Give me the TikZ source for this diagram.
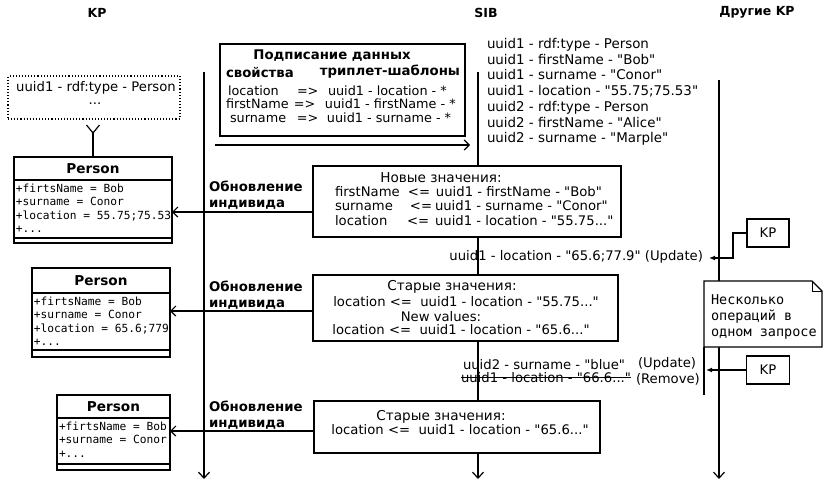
\documentclass[tikz,border=0pt]{standalone}
\usepackage{fontspec}
\setmainfont{DejaVu Sans}[Ligatures=TeXOff]
\setmonofont{DejaVu Sans Mono}
\usetikzlibrary{arrows.meta,calc}
\begin{document}
\begin{tikzpicture}[x=1pt,y=-1pt,
  every node/.style={inner sep=0pt, outer sep=0pt},
  ln/.style={line width=1.2pt},
  lifeline/.style={ln, -{Straight Barb[length=6pt,width=11pt,line width=1.2pt]}},
  box/.style={draw, ln, fill=white, anchor=north west},
  txt/.style={font=\fontsize{13.2}{15}\selectfont},
  stxt/.style={font=\fontsize{12.8}{15}\selectfont},
  ctxt/.style={font=\fontsize{13.6}{15}\selectfont},
  btxt/.style={font=\fontsize{13.3}{16}\bfseries\selectfont},
  ttxt/.style={font=\fontsize{12.5}{16}\bfseries\selectfont},
  mono/.style={font=\fontsize{11.2}{13.6}\ttfamily\selectfont},
  upd/.style={ln, -{Straight Barb[length=5pt,width=10pt,line width=1.2pt]}},
  msg/.style={ln, -{Latex[length=6pt,width=5pt]}},
]
\useasboundingbox (0,0) rectangle (823,482);
\fill[white] (0,0) rectangle (823,482);

% titles
\node[ttxt] (tkp) at (97,13) {KP};
\node[ttxt] (tsib) at (486,13) {SIB};
\node[ttxt] (toth) at (757,12) {Другие KP};

% lifelines
\coordinate (kpT) at (204,72);  \coordinate (kpB) at (204,479);
\coordinate (sibT) at (478,72); \coordinate (sibB) at (478,479);
\coordinate (othT) at (719,80); \coordinate (othB) at (719,479);
\draw[lifeline] (kpT) -- (kpB);
\draw[lifeline] (sibT) -- (sibB);
\draw[lifeline] (othT) -- (othB);

% SIB triples
\node[anchor=west, align=left, font=\fontsize{13.4}{15.7}\selectfont] (sibtxt) at (487,92)
 {uuid1 - rdf:type - Person\\
  uuid1 - firstName - "Bob"\\
  uuid1 - surname - "Conor"\\
  uuid1 - location - "55.75;75.53"\\
  uuid2 - rdf:type - Person\\
  uuid2 - firstName - "Alice"\\
  uuid2 - surname - "Marple"};

% subscription box
\node[box, minimum width=245, minimum height=92] (sub) at (220,44) {};
\node[btxt] (subt) at (332,56) {Подписание данных};
\node[btxt, anchor=west] (subl) at (226,73) {свойства};
\node[btxt, anchor=east] (subr) at (460,72) {триплет-шаблоны};
\node[stxt, anchor=west] (s1) at (228,91) {\makebox[69pt][l]{location}\makebox[31pt][l]{=>}uuid1 - location - *};
\node[stxt, anchor=west] (s2) at (226,104) {\makebox[68pt][l]{firstName}\makebox[31pt][l]{=>}uuid1 - firstName - *};
\node[stxt, anchor=west] (s3) at (230,118) {\makebox[67pt][l]{surname}\makebox[30pt][l]{=>}uuid1 - surname - *};
\coordinate (subA) at (215,145); \coordinate (subB) at (470,145);
\draw[upd] (subA) -- (subB);

% dotted box
\node[draw, dotted, line width=1.1pt, anchor=north west, minimum width=172, minimum height=43] (dot) at (8,76) {};
\node[txt] (dott) at (96,88) {uuid1 - rdf:type - Person};
\node[txt, anchor=base, text height=1.5pt, text depth=0pt] (dotd) at (95,104) {...};

% class 1
\node[box, minimum width=158, minimum height=23, font=\fontsize{13.6}{15}\bfseries\selectfont] (c1h) at (14,157) {Person};
\node[box, minimum width=158, minimum height=63] (c1b) at (c1h.south west) {};
\begin{scope}
\clip (c1b.north west) rectangle (c1b.south east);
\node[mono, anchor=north west, align=left] (c1t) at ([xshift=2pt,yshift=-3.5pt]c1b.north west)
 {+firtsName = Bob\\+surname = Conor\\+location = 55.75;75.53\\+...};
\end{scope}
\draw[ln] (c1b.north west) rectangle (c1b.south east);
\draw[ln] ([yshift=5pt]c1b.south west) -- ([yshift=5pt]c1b.south east);
\coordinate (ya) at ([yshift=24pt]c1h.north);
\draw[ln] (c1h.north) -- (ya);
\draw[ln] (ya) -- ++(-6.5,-8) (ya) -- ++(6.5,-8);

% box 2: new values
\node[box, minimum width=308, minimum height=71] (b2) at (313,166) {};
\node[ctxt] (b2t) at (441,178) {Новые значения:};
\node[txt, anchor=west] (b2a) at (335,192) {\makebox[73pt][l]{firstName}\makebox[28pt][l]{<=}uuid1 - firstName - "Bob"};
\node[txt, anchor=west] (b2b) at (335,206) {\makebox[75pt][l]{surname}\makebox[25pt][l]{<=}uuid1 - surname - "Conor"};
\node[txt, anchor=west] (b2c) at (335,221) {\makebox[72pt][l]{location}\makebox[28pt][l]{<=}uuid1 - location - "55.75..."};
\coordinate (y1) at (0,212);
\draw[upd] (b2.west |- y1) -- (c1b.east |- y1);
\node[btxt, anchor=west, align=left] (l1) at (209,195) {Обновление\\индивида};

% update message 1
\node[txt, anchor=east] (m1) at (703,257) {uuid1 - location - "65.6;77.9" (Update)};
\node[draw, ln, fill=white, minimum width=42, minimum height=28, txt] (kp1) at (768,233) {KP};
\coordinate (m1tip) at (709,258);
\draw[msg] (kp1.west) -- ++(-14,0) |- (m1tip);

% class 2
\node[box, minimum width=138, minimum height=25, font=\fontsize{13.6}{15}\bfseries\selectfont] (c2h) at (32,268) {Person};
\node[box, minimum width=138, minimum height=64] (c2b) at (c2h.south west) {};
\begin{scope}
\clip (c2b.north west) rectangle (c2b.south east);
\node[mono, anchor=north west, align=left] (c2t) at ([xshift=2pt,yshift=-3.5pt]c2b.north west)
 {+firtsName = Bob\\+surname = Conor\\+location = 65.6;779\\+...};
\end{scope}
\draw[ln] (c2b.north west) rectangle (c2b.south east);
\draw[ln] ([yshift=7pt]c2b.south west) -- ([yshift=7pt]c2b.south east);

% box 3
\node[box, minimum width=305, minimum height=66] (b3) at (313,275) {};
\node[ctxt] (b3t) at (452,287) {Старые значения:};
\node[txt] (b3a) at (466,302) {location <=\ \ uuid1 - location - "55.75..."};
\node[txt] (b3b) at (441,317) {New values:};
\node[txt] (b3c) at (461,330) {location <=\ \ uuid1 - location - "65.6..."};
\coordinate (y2) at (0,311);
\draw[upd] (b3.west |- y2) -- (c2b.east |- y2);
\node[btxt, anchor=west, align=left] (l2) at (209,295) {Обновление\\индивида};

% note
\draw[ln, fill=white] (704,281) -- (812,281) -- (822,291) -- (822,347) -- (704,347) -- cycle;
\draw[line width=0.8pt] (812,281) -- (812,291) -- (822,291);
\node[anchor=west, align=left, font=\fontsize{13.5}{16}\ttfamily\selectfont] (note) at (711,317)
 {Несколько\\операций в\\одном запросе};
\coordinate (grpT) at (704,347); \coordinate (grpB) at (704,395);
\draw[ln] (grpT) -- (grpB);

% update message 2
\node[txt, anchor=west] (m2a) at (463,365) {uuid2 - surname - "blue"};
\node[txt, anchor=west] (m2b) at (638,364) {(Update)};
\node[txt, anchor=west] (rem) at (461,378) {uuid1 - location - "66.6..."};
\draw[line width=0.8pt] ([yshift=1pt]rem.west) -- ([yshift=1pt]rem.east);
\node[txt, anchor=west] (m2c) at (636,379) {(Remove)};
\node[draw, ln, fill=white, minimum width=43, minimum height=28, txt] (kp2) at (768,370) {KP};
\coordinate (m2tip) at (706,370);
\draw[msg] (kp2.west) -- (m2tip);

% class 3
\node[box, minimum width=113, minimum height=23, font=\fontsize{13.6}{15}\bfseries\selectfont] (c3h) at (57,395) {Person};
\node[box, minimum width=113, minimum height=52] (c3b) at (c3h.south west) {};
\node[mono, anchor=north west, align=left] (c3t) at ([xshift=2pt,yshift=-3.5pt]c3b.north west)
 {+firtsName = Bob\\+surname = Conor\\+...};
\draw[ln] ([yshift=6pt]c3b.south west) -- ([yshift=6pt]c3b.south east);

% box 4
\node[box, minimum width=286, minimum height=52] (b4) at (314,401) {};
\node[ctxt] (b4t) at (441,417) {Старые значения:};
\node[txt] (b4a) at (460,430) {location <=\ \ uuid1 - location - "65.6..."};
\coordinate (y3) at (0,431);
\draw[upd] (b4.west |- y3) -- (c3b.east |- y3);
\node[btxt, anchor=west, align=left] (l3) at (209,415) {Обновление\\индивида};
\end{tikzpicture}
\end{document}
